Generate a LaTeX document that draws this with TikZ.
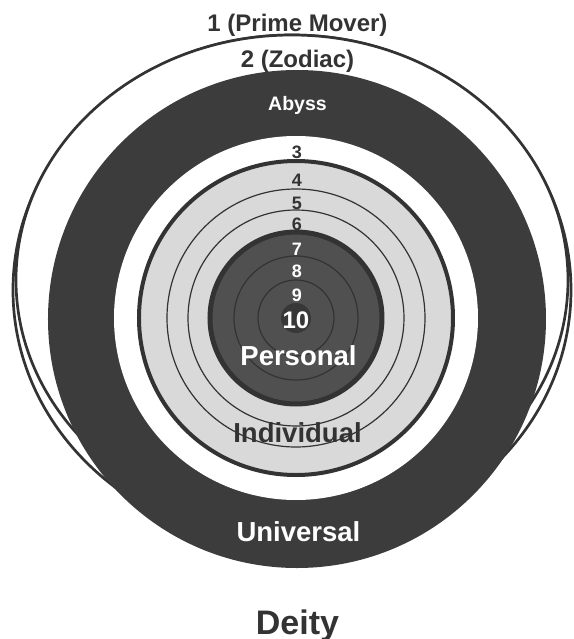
\documentclass[tikz,border=0pt]{standalone}
\usepackage{fontspec}
\setmainfont{Liberation Sans}
\usetikzlibrary{positioning}
\definecolor{ink}{RGB}{51,51,51}
\definecolor{abyss}{RGB}{60,60,60}
\definecolor{mist}{RGB}{217,217,217}
\definecolor{core}{RGB}{80,80,80}
\definecolor{kern}{RGB}{56,56,56}
\tikzset{
  sphere/.style={draw=ink,fill=white,line width=1.35pt},
  rim/.style={draw=ink,line width=0.6pt},
  lbl/.style={inner sep=0pt,anchor=base},
  dlbl/.style={lbl,text=ink},
  wlbl/.style={lbl,text=white},
}
\newcommand{\bsz}[1]{\bfseries\fontsize{#1}{#1}\selectfont}

\begin{document}
\begin{tikzpicture}[x=0.5pt,y=0.5pt]
\useasboundingbox (-296,318) rectangle (278,-321);
% outer spheres
\draw[sphere] (-4,28) ellipse [x radius=279,y radius=255];
\draw[sphere] (-4,38) ellipse [x radius=276,y radius=245];
\fill[abyss] (1,-1) circle [radius=249];
\fill[white] (0,0) circle [radius=182];
% individual band
\filldraw[fill=mist,draw=ink,line width=2pt] (0,0) circle [radius=157];
\node[dlbl,font=\bsz{13.75}] (indiv) at (1.5,-124) {Individual};
\foreach \r in {129,108}
  \draw[rim] (0,0) circle [radius=\r];
% personal core
\filldraw[fill=core,draw=ink,line width=2.5pt] (0,0) circle [radius=86];
\foreach \r in {62,38}
  \draw[rim] (0,0) circle [radius=\r];
\fill[kern] (0,0) circle [radius=15];
% labels
\node[dlbl,font=\bsz{12}] (prime) at (1.5,287) {1 (Prime Mover)};
\node[dlbl,font=\bsz{12}] (zodiac) at (1.5,251) {2 (Zodiac)};
\node[wlbl,font=\bsz{9.75}] (abyssl) at (1.5,208) {Abyss};
\foreach \n/\y/\c in {3/160/ink,4/132/ink,5/109/ink,6/88/ink,
    7/63/white,8/41/white,9/17/white}{
  \node[lbl,text=\c,font=\bsz{9}] (n\n) at (1,\y) {\n};}
\node[wlbl,font=\bsz{12}] (n10) at (0,-10) {10};
\node[wlbl,font=\bsz{13.75}] (pers) at (2.5,-47) {Personal};
\node[wlbl,font=\bsz{13.75}] (univ) at (2.5,-223) {Universal};
\node[dlbl,font=\bsz{17}] (deity) at (1.5,-316) {Deity};
\end{tikzpicture}
\end{document}
